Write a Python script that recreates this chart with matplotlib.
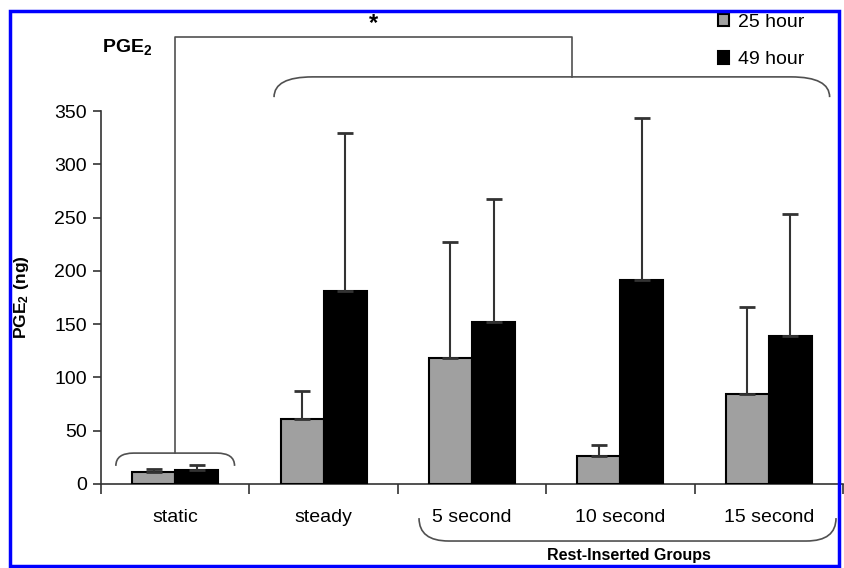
import numpy as np
import matplotlib
matplotlib.use('Agg')
import matplotlib.pyplot as plt
from matplotlib.path import Path
from matplotlib.patches import PathPatch, Rectangle

plt.rcParams['font.family'] = ['Liberation Sans', 'DejaVu Sans']
plt.rcParams['mathtext.fontset'] = 'custom'
plt.rcParams['mathtext.rm'] = 'Liberation Sans'
plt.rcParams['mathtext.bf'] = 'Liberation Sans:bold'

groups = ['static', 'steady', '5 second', '10 second', '15 second']
series = ['25 hour', '49 hour']
mean_25h = [11, 61, 118, 26, 84]
top_25h = [14.5, 87, 227, 37, 166]
mean_49h = [13.5, 181, 152, 191, 139]
top_49h = [18, 329, 267, 343, 253]
yticks = [0, 50, 100, 150, 200, 250, 300, 350]


def brace(ax, x0, x1, y_end, y_flat, dx, color='#505050'):
    verts = [(x0, y_end), (x0, y_flat), (x0 + dx, y_flat),
             (x1 - dx, y_flat), (x1, y_flat), (x1, y_end)]
    codes = [Path.MOVETO, Path.CURVE3, Path.CURVE3,
             Path.LINETO, Path.CURVE3, Path.CURVE3]
    ax.add_patch(PathPatch(Path(verts, codes), fill=False, edgecolor=color,
                           lw=1.2, clip_on=False))


fig = plt.figure(figsize=(8.45, 5.68), dpi=100)
ax = fig.add_axes([101 / 845, 84 / 568, 742 / 845, 373 / 568])

x = np.arange(len(groups))
w = 0.29
m25 = np.array(mean_25h)
m49 = np.array(mean_49h)
err25 = [np.zeros(len(x)), np.array(top_25h) - m25]
err49 = [np.zeros(len(x)), np.array(top_49h) - m49]
ekw = dict(ecolor='#333333', elinewidth=1.5, capsize=5.5, capthick=2)
ax.bar(x - w / 2, m25, w, color='#a0a0a0', edgecolor='black', lw=1.5,
       yerr=err25, error_kw=ekw, label=series[0], zorder=3)
ax.bar(x + w / 2, m49, w, color='black', edgecolor='black', lw=1.5,
       yerr=err49, error_kw=ekw, label=series[1], zorder=3)

ax.set_xlim(-0.5, len(groups) - 0.5)
ax.set_ylim(0, 350)
ax.set_yticks(yticks)
ax.tick_params(axis='y', labelsize=14, length=6, width=1.2, color='#333333',
               pad=4)
ax.set_xticks(np.arange(-0.5, len(groups)), labels=[])
ax.set_xticks(x, labels=groups, minor=True)
ax.tick_params(axis='x', which='major', length=7, width=1.2, color='#333333')
ax.tick_params(axis='x', which='minor', length=0, labelsize=14, pad=18)
for s in ['top', 'right']:
    ax.spines[s].set_visible(False)
for s in ['left', 'bottom']:
    ax.spines[s].set_color('#333333')
    ax.spines[s].set_linewidth(1.2)

ax.set_ylabel(r'$\mathbf{PGE_2\ (ng)}$', fontsize=12.5, labelpad=0)
ax.yaxis.set_label_coords(-0.094, 0.5)

# significance bracket
brace(ax, -0.4, 0.4, 17, 29, 0.12)
brace(ax, 0.666, 4.41, 363, 382, 0.26)
ax.plot([0, 0, 2.674, 2.674], [29, 419.5, 419.5, 382], color='#505050',
        lw=1.2, clip_on=False)
ax.text(1.333, 432, '*', fontsize=17, fontweight='bold', ha='center',
        va='center')
ax.text(-0.493, 410, r'$\mathbf{PGE_2}$', fontsize=14, ha='left',
        va='center')

# rest-inserted groups
brace(ax, 1.643, 4.453, -32, -53.5, 0.2)
ax.text(3.058, -60.5, 'Rest-Inserted Groups', fontsize=11.5,
        fontweight='bold', ha='center', va='top', clip_on=False)

fig.legend(loc='upper left', bbox_to_anchor=(708 / 845, 1 - 4 / 568),
           frameon=False, fontsize=14, handlelength=0.6, handleheight=0.6,
           handletextpad=0.45, labelspacing=1.05, borderpad=0)

fig.patches.append(Rectangle((10 / 845, 2 / 568), 829 / 845, 555 / 568,
                             transform=fig.transFigure, fill=False,
                             edgecolor='#0000ff', lw=2.5, zorder=10))

fig.savefig('out.png', dpi=100)
